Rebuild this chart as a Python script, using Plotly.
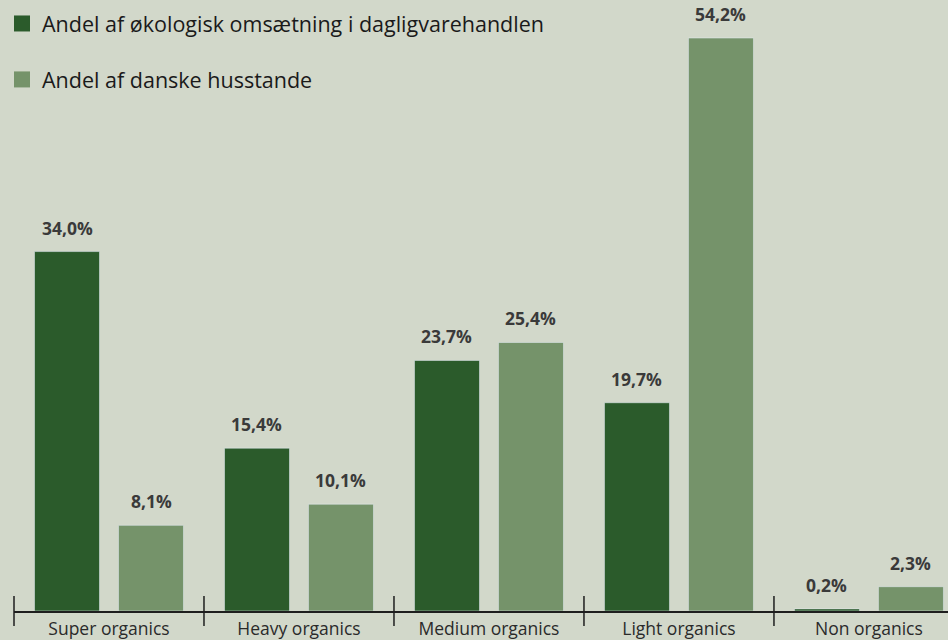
import plotly.graph_objects as go

categories = ['Super organics', 'Heavy organics', 'Medium organics', 'Light organics', 'Non organics']
omsaetning = [34.0, 15.4, 23.7, 19.7, 0.2]
husstande = [8.1, 10.1, 25.4, 54.2, 2.3]
series_names = ['Andel af økologisk omsætning i dagligvarehandlen', 'Andel af danske husstande']

dark = '#2b5b2b'
light = '#75936a'
bg = '#d2d8ca'
font = 'Open Sans'

fig = go.Figure()
for vals, col in [(omsaetning, dark), (husstande, light)]:
    fig.add_trace(go.Bar(x=categories, y=vals, marker_color=col, showlegend=False, hoverinfo='skip'))

# legend entries with bigger square symbols
for i, (name, col) in enumerate(zip(series_names, [dark, light])):
    fig.add_trace(go.Scatter(x=[None], y=[None], mode='markers', name=name,
                             legendgroup=str(i),
                             marker=dict(symbol='square', size=17, color=col)))

# value labels
for vals, shift in [(omsaetning, -42), (husstande, 42)]:
    for c, v in zip(categories, vals):
        fig.add_annotation(x=c, y=v, text=f'<b>{v:.1f}%</b>'.replace('.', ','),
                           xshift=shift, yshift=10, yanchor='bottom', showarrow=False,
                           font=dict(family=font, size=17.5, color='#3a3a3a'))

x0, x1 = -0.5, 4.416
shapes = []
for b in range(len(categories) + 1):
    xp = (b - 0.5 - x0) / (x1 - x0)
    if xp <= 1:
        shapes.append(dict(type='line', xref='paper', yref='paper', x0=xp, x1=xp,
                           y0=-15 / 592, y1=15 / 592, line=dict(color='#1e1e1e', width=1.5)))

fig.update_layout(
    width=948, height=640,
    margin=dict(l=14, r=0, t=19, b=29, autoexpand=False),
    paper_bgcolor=bg, plot_bgcolor=bg,
    barmode='group', bargap=0.116, bargroupgap=0.226,
    font=dict(family=font, color='#1e1e1e'),
    shapes=shapes,
    legend=dict(xref='container', yref='container', x=2 / 948, y=1 - 3 / 640, xanchor='left', yanchor='top',
                font=dict(family=font, size=21.5, color='#1a1a1a'), tracegroupgap=25,
                bgcolor='rgba(0,0,0,0)'),
    xaxis=dict(range=[x0, x1], showline=True, linecolor='#1e1e1e', linewidth=1.5, tickangle=0,
               ticks='', ticklabelstandoff=1,
               tickfont=dict(family=font, size=17.5, color='#2a2a2a'), fixedrange=True),
    yaxis=dict(range=[0, 56], visible=False, showgrid=False, zeroline=False, fixedrange=True),
)

fig.write_html('out.html', config={'displayModeBar': False},
               post_script="document.body.style.margin='0';")
